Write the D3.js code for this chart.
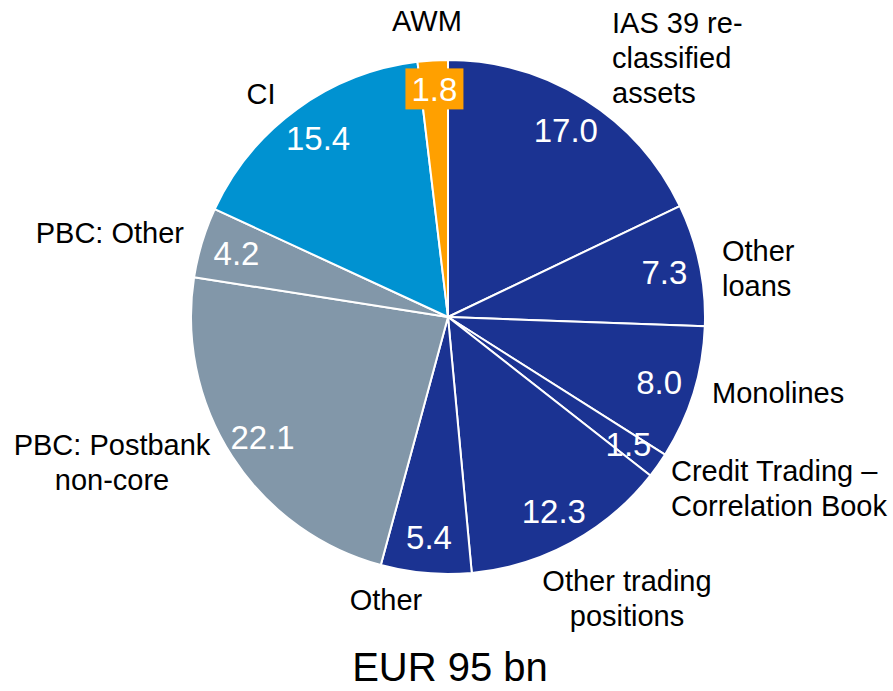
<!DOCTYPE html>
<html>
<head>
<meta charset="utf-8">
<script src="https://cdn.jsdelivr.net/npm/d3@7"></script>
<style>
  body { margin: 0; background: #fff; }
  text { font-family: "Liberation Sans", Arial, sans-serif; }
</style>
</head>
<body>
<script>
// data, clockwise from 12 o'clock
const categories = ['IAS 39 re-classified assets', 'Other loans', 'Monolines',
  'Credit Trading – Correlation Book', 'Other trading positions', 'Other',
  'PBC: Postbank non-core', 'PBC: Other', 'CI', 'AWM']
const values = [17.0, 7.3, 8.0, 1.5, 12.3, 5.4, 22.1, 4.2, 15.4, 1.8]
const groups = ['CB', 'CB', 'CB', 'CB', 'CB', 'CB', 'PBC', 'PBC', 'CI', 'AWM']
const totalLabel = 'EUR 95 bn'

// label lines for the outside text
const labelLines = [
  ['IAS 39 re-', 'classified', 'assets'],
  ['Other', 'loans'],
  ['Monolines'],
  ['Credit Trading –', 'Correlation Book'],
  ['Other trading', 'positions'],
  ['Other'],
  ['PBC: Postbank', 'non-core'],
  ['PBC: Other'],
  ['CI'],
  ['AWM']
]

// outside label layout (first line centre y)
const labelLayout = [
  { x: 612, y: 23, anchor: 'start' },
  { x: 722, y: 251, anchor: 'start' },
  { x: 712, y: 393, anchor: 'start' },
  { x: 671, y: 471, anchor: 'start' },
  { x: 627, y: 581, anchor: 'middle' },
  { x: 386, y: 600, anchor: 'middle' },
  { x: 112, y: 445, anchor: 'middle' },
  { x: 184, y: 233, anchor: 'end' },
  { x: 261, y: 94, anchor: 'middle' },
  { x: 427, y: 21, anchor: 'middle' }
]

const width = 893
const height = 691
const cx = 448
const cy = 317
const radius = 257
const valueRadius = 221
const lineHeight = 35

const color = d3.scaleOrdinal()
  .domain(['CB', 'PBC', 'CI', 'AWM'])
  .range(['#1b3392', '#8297a9', '#0092d1', '#ffa000'])

const data = values.map((v, i) => ({ name: categories[i], value: v, group: groups[i], i }))

const svg = d3.select('body').append('svg')
  .attr('width', width)
  .attr('height', height)

const g = svg.append('g')
  .attr('transform', `translate(${cx},${cy})`)

const pie = d3.pie().value(d => d.value).sort(null)
const arcs = pie(data)

const arc = d3.arc().innerRadius(0).outerRadius(radius)
const labelArc = d3.arc().innerRadius(valueRadius).outerRadius(valueRadius)

//=================== SLICES ==================
g.selectAll('path')
  .data(arcs)
  .enter()
  .append('path')
  .attr('d', arc)
  .attr('fill', d => color(d.data.group))
  .attr('stroke', '#fff')
  .attr('stroke-width', 2)
  .attr('stroke-linejoin', 'round')

//=================== VALUE LABELS ==================
// AWM gets an orange box behind its small label
const awm = arcs.find(d => d.data.group === 'AWM')
const [ax, ay] = d3.arc().innerRadius(228).outerRadius(228).centroid(awm)
g.append('rect')
  .attr('x', ax - 29)
  .attr('y', ay - 21)
  .attr('width', 58)
  .attr('height', 41)
  .attr('fill', color('AWM'))

g.selectAll('.value')
  .data(arcs)
  .enter()
  .append('text')
  .attr('class', 'value')
  .attr('transform', d => d.data.group === 'AWM'
    ? `translate(${ax},${ay})`
    : `translate(${labelArc.centroid(d)})`)
  .attr('text-anchor', 'middle')
  .attr('dy', '0.36em')
  .attr('fill', '#fff')
  .style('font-size', '33px')
  .text(d => d3.format('.1f')(d.data.value))

//=================== CATEGORY LABELS ==================
const labels = svg.selectAll('.cat')
  .data(data)
  .enter()
  .append('text')
  .attr('class', 'cat')
  .attr('text-anchor', d => labelLayout[d.i].anchor)
  .attr('fill', '#000')
  .style('font-size', '29px')

labels.selectAll('tspan')
  .data(d => labelLines[d.i].map((t, k) => ({ t, k, pos: labelLayout[d.i] })))
  .enter()
  .append('tspan')
  .attr('x', d => d.pos.x)
  .attr('y', d => d.pos.y + d.k * lineHeight)
  .attr('dy', '0.36em')
  .text(d => d.t)

//=================== TOTAL ==================
svg.append('text')
  .attr('x', 450)
  .attr('y', 667)
  .attr('dy', '0.36em')
  .attr('text-anchor', 'middle')
  .style('font-size', '40px')
  .text(totalLabel)
</script>
</body>
</html>
